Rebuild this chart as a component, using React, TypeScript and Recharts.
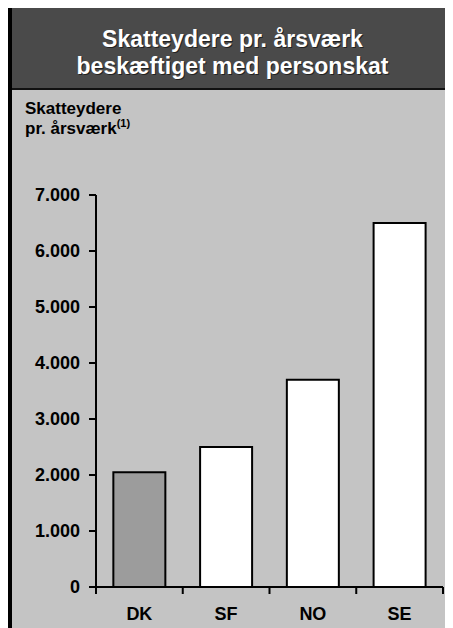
import React from 'react';
import { BarChart, Bar, XAxis, YAxis, Cell } from 'recharts';

// data
const countries = ['DK', 'SF', 'NO', 'SE'];
const taxpayersPerFte = [2050, 2500, 3700, 6500];
const yTicks = [0, 1000, 2000, 3000, 4000, 5000, 6000, 7000];
const barFills = ['#9c9c9c', '#ffffff', '#ffffff', '#ffffff'];

const titleLines = ['Skatteydere pr. årsværk', 'beskæftiget med personskat'];

const W = 445;
const H = 620;
const Y_AXIS_W = 88;
const MARGIN_RIGHT = 10;
const FONT = '"Liberation Sans", Arial, sans-serif';

const data = countries.map((c, i) => ({ country: c, value: taxpayersPerFte[i] }));

const fmt = (v: number) => (v === 0 ? '0' : `${v / 1000}.000`);

const XTick = (props: any) => {
    const { x, y, payload, index } = props;
    const half = (W - Y_AXIS_W - MARGIN_RIGHT) / countries.length / 2;
    return (
        <g>
            <line x1={x - half} y1={y - 8} x2={x - half} y2={y - 1} stroke='#000' strokeWidth={2} />
            {index === countries.length - 1 && (
                <line x1={x + half} y1={y - 8} x2={x + half} y2={y - 1} stroke='#000' strokeWidth={2} />
            )}
            <text x={x} y={y + 25} textAnchor='middle' fontFamily={FONT} fontWeight='bold' fontSize={18} fill='#000'>
                {payload.value}
            </text>
        </g>
    );
};

export default function App() {
    return (
        <div
            style={{
                position: 'relative',
                width: W,
                height: H,
                overflow: 'hidden',
                background: '#c4c4c4',
                fontFamily: FONT,
            }}
        >
            <div style={{ position: 'absolute', left: 0, top: 0, width: 4, height: H, background: '#000' }} />
            <div
                style={{
                    position: 'absolute',
                    left: 4,
                    top: 0,
                    width: W - 4,
                    height: 82,
                    background: '#4a4a4a',
                    borderBottom: '2px solid #111',
                    boxSizing: 'border-box',
                    paddingTop: 18,
                    color: '#fff',
                    fontWeight: 'bold',
                    fontSize: 23,
                    lineHeight: '27px',
                    textAlign: 'center',
                    textShadow: '1px 1px 0 #222',
                }}
            >
                {titleLines.map((t) => (
                    <div key={t}>{t}</div>
                ))}
            </div>
            <div
                style={{
                    position: 'absolute',
                    left: 17,
                    top: 91,
                    fontWeight: 'bold',
                    fontSize: 17,
                    lineHeight: '20px',
                    color: '#000',
                }}
            >
                <div>Skatteydere</div>
                <div>
                    pr. årsværk<sup style={{ fontSize: 11, lineHeight: 0 }}>(1)</sup>
                </div>
            </div>
            <div style={{ position: 'absolute', left: 0, top: 0 }}>
                <BarChart
                    width={W}
                    height={H}
                    data={data}
                    margin={{ top: 187, right: MARGIN_RIGHT, bottom: 5, left: 0 }}
                    barCategoryGap='20%'
                >
                    <XAxis
                        dataKey='country'
                        height={36}
                        tickLine={false}
                        axisLine={{ stroke: '#000', strokeWidth: 2 }}
                        tick={<XTick />}
                        interval={0}
                    />
                    <YAxis
                        width={Y_AXIS_W}
                        domain={[0, 7000]}
                        ticks={yTicks}
                        interval={0}
                        tickFormatter={fmt}
                        tickSize={7}
                        tickMargin={9}
                        tickLine={{ stroke: '#000', strokeWidth: 2 }}
                        axisLine={{ stroke: '#000', strokeWidth: 2 }}
                        tick={{ fill: '#000', fontSize: 18, fontWeight: 'bold', fontFamily: FONT }}
                    />
                    <Bar dataKey='value' stroke='#000' strokeWidth={2} isAnimationActive={false}>
                        {data.map((d, i) => (
                            <Cell key={d.country} fill={barFills[i]} />
                        ))}
                    </Bar>
                </BarChart>
            </div>
        </div>
    );
}
